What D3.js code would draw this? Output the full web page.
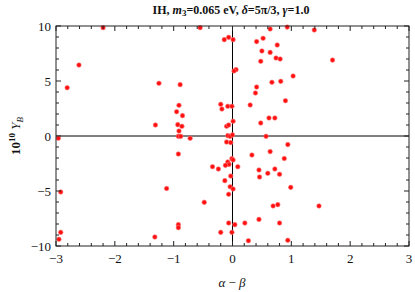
<!DOCTYPE html>
<html><head><meta charset="utf-8">
<script src="https://cdn.jsdelivr.net/npm/d3@7"></script>
<style>body{margin:0;background:#fff}svg{display:block}</style>
</head><body>
<script>
const titleText = "IH, m3=0.065 eV, δ=5π/3, γ=1.0";
const xTicks = [-3,-2,-1,0,1,2,3];
const yTicks = [-10,-5,0,5,10];
const xVals = [-2.20,-2.61,-2.81,-1.25,-1.31,-2.96,-0.55,0.64,0.93,1.39,-0.14,-0.065,0.01,0.41,0.52,0.76,0.50,0.64,0.74,0.81,0.48,1.70,0.06,0.025,1.03,-0.89,0.41,0.67,0.82,0.39,0.90,-0.91,-0.20,-0.18,-0.08,-0.01,0.30,-0.95,-0.85,0.48,0.62,0.72,0.01,-0.93,-0.86,-0.10,-0.065,-0.91,-0.92,-0.88,-0.72,-0.08,-0.04,0.0,0.57,-0.10,-0.03,0.94,-0.92,0.33,0.64,0.88,-0.01,0.01,-0.08,-0.06,-0.12,-0.34,-0.24,0.09,0.45,0.72,0.60,0.46,0.80,-0.03,-0.13,-0.04,0.01,-0.065,-1.12,0.99,-0.48,0.69,0.77,1.47,0.45,0.80,-0.92,-0.92,-0.065,0.04,0.21,-0.20,-0.01,0.27,0.94,-2.92,-2.92,-2.95,-1.32];
const yVals = [9.85,6.45,4.39,4.79,1.0,-0.2,9.85,9.73,9.9,9.64,8.76,8.97,8.76,8.58,8.88,8.27,7.73,7.6,7.09,7.0,6.79,6.9,6.03,5.91,5.45,4.67,4.45,4.88,4.97,3.91,3.21,2.79,2.88,2.45,2.7,2.7,2.82,2.21,1.85,1.18,1.64,1.64,1.34,1.03,0.88,0.88,1.0,0.45,-0.03,-0.03,-0.21,0.03,-0.03,0.1,-0.03,-0.55,-0.6,-0.78,-1.64,-1.73,-1.42,-2.05,-2.06,-2.18,-2.36,-2.58,-2.67,-2.79,-3.0,-2.79,-3.09,-3.0,-3.39,-3.73,-3.48,-3.64,-4.06,-4.61,-4.82,-5.3,-4.77,-4.67,-6.03,-6.36,-6.24,-6.36,-7.58,-7.91,-8.06,-8.33,-7.91,-8.06,-7.91,-8.76,-8.76,-9.52,-9.48,-5.09,-8.76,-9.39,-9.18];

const W = 415, H = 292;
const L = 56, R = 409, T = 26, B = 246;
const svg = d3.select("body").append("svg").attr("width", W).attr("height", H);
const x = d3.scaleLinear().domain([-3,3]).range([L,R]);
const y = d3.scaleLinear().domain([-10,10]).range([B,T]);
const font = "'Liberation Serif','Times New Roman',serif";

// zero lines
svg.append("line").attr("x1",L).attr("x2",R).attr("y1",y(0)).attr("y2",y(0)).attr("stroke","#000").attr("stroke-width",1);
svg.append("line").attr("x1",x(0)).attr("x2",x(0)).attr("y1",T).attr("y2",B).attr("stroke","#000").attr("stroke-width",1);

// points
svg.append("g").selectAll("circle").data(xVals.map((v,i)=>[v,yVals[i]])).join("circle")
  .attr("cx",d=>x(d[0])).attr("cy",d=>y(d[1])).attr("r",2.3)
  .attr("fill","#ff1010").attr("stroke","#ff8080").attr("stroke-width",0.6);

// frame
svg.append("rect").attr("x",L).attr("y",T).attr("width",R-L).attr("height",B-T)
  .attr("fill","none").attr("stroke","#222").attr("stroke-width",1);

// ticks
const xMinor = d3.range(-3,3.001,0.2).map(v=>+v.toFixed(2));
const yMinor = d3.range(-10,10.001,1);
const tg = svg.append("g").attr("stroke","#222").attr("stroke-width",1);
xMinor.forEach(v=>{
  const major = Math.abs(v-Math.round(v))<1e-6;
  const len = major?5:3;
  tg.append("line").attr("x1",x(v)).attr("x2",x(v)).attr("y1",B).attr("y2",B-len);
  tg.append("line").attr("x1",x(v)).attr("x2",x(v)).attr("y1",T).attr("y2",T+len);
});
yMinor.forEach(v=>{
  const major = v%5===0;
  const len = major?5:3;
  tg.append("line").attr("x1",L).attr("x2",L+len).attr("y1",y(v)).attr("y2",y(v));
  tg.append("line").attr("x1",R).attr("x2",R-len).attr("y1",y(v)).attr("y2",y(v));
});

const fmt = v => v<0 ? "\u2212"+Math.abs(v) : String(v);
// x tick labels
svg.append("g").selectAll("text").data(xTicks).join("text")
  .attr("x",d=>x(d)).attr("y",263).attr("text-anchor","middle")
  .attr("font-family",font).attr("font-size",13).attr("fill","#111").text(fmt);
// y tick labels
svg.append("g").selectAll("text").data(yTicks).join("text")
  .attr("x",51).attr("y",d=>y(d)+4.5).attr("text-anchor","end")
  .attr("font-family",font).attr("font-size",13).attr("fill","#111").text(fmt);

// title
const t = svg.append("text").attr("x",231).attr("y",14).attr("text-anchor","middle")
  .attr("font-family",font).attr("font-size",12).attr("font-weight","bold").attr("fill","#111");
t.append("tspan").text("IH, ");
t.append("tspan").attr("font-style","italic").text("m");
t.append("tspan").attr("font-size",9).attr("dy",2).text("3");
t.append("tspan").attr("dy",-2).text("=0.065 eV, ");
t.append("tspan").attr("font-style","italic").text("δ");
t.append("tspan").text("=5π/3, ");
t.append("tspan").attr("font-style","italic").text("γ");
t.append("tspan").text("=1.0");

// x label
const xl = svg.append("text").attr("x",232).attr("y",287).attr("text-anchor","middle")
  .attr("font-family",font).attr("font-size",13).attr("fill","#111");
xl.append("tspan").attr("font-style","italic").text("α");
xl.append("tspan").text(" \u2212 ");
xl.append("tspan").attr("font-style","italic").text("β");

// y label
const yl = svg.append("text").attr("transform","translate(20,136) rotate(-90)").attr("text-anchor","middle")
  .attr("font-family",font).attr("font-size",13).attr("font-weight","bold").attr("fill","#111");
yl.append("tspan").text("10");
yl.append("tspan").attr("font-size",9).attr("dy",-5).text("10");
yl.append("tspan").attr("dy",5).text(" ");
yl.append("tspan").attr("font-style","italic").attr("font-weight","normal").text("Y");
yl.append("tspan").attr("font-style","italic").attr("font-weight","normal").attr("font-size",9).attr("dy",3).text("B");
</script>
</body></html>
